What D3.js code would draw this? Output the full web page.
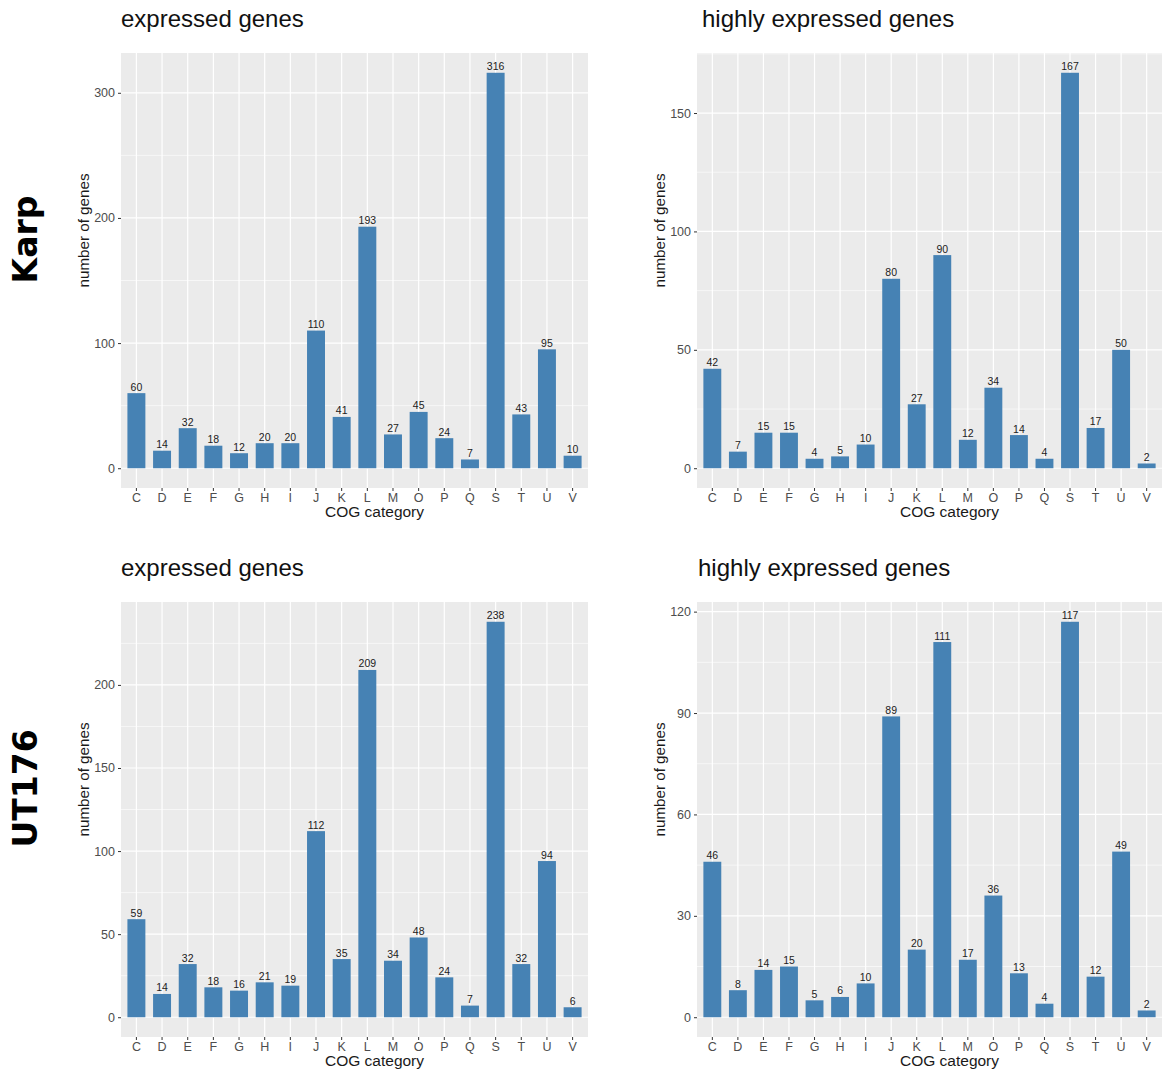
<!DOCTYPE html>
<html>
<head>
<meta charset="utf-8">
<script src="https://cdn.jsdelivr.net/npm/d3@7"></script>
<style>
  html, body { margin: 0; padding: 0; background: #ffffff; }
  svg { display: block; }
  text { font-family: "Liberation Sans", Arial, Helvetica, sans-serif; }
</style>
</head>
<body>
<svg id="chart" width="1162" height="1072"></svg>
<script>
// COG functional categories shown on every x axis
const categories = ["C","D","E","F","G","H","I","J","K","L","M","O","P","Q","S","T","U","V"];

// Gene counts per COG category
const karpExpressed       = [60,14,32,18,12,20,20,110,41,193,27,45,24,7,316,43,95,10];
const karpHighlyExpressed = [42,7,15,15,4,5,10,80,27,90,12,34,14,4,167,17,50,2];
const ut176Expressed       = [59,14,32,18,16,21,19,112,35,209,34,48,24,7,238,32,94,6];
const ut176HighlyExpressed = [46,8,14,15,5,6,10,89,20,111,17,36,13,4,117,12,49,2];

// Y axis tick values for each panel
const karpExpressedTicks       = [0,100,200,300];
const karpHighlyExpressedTicks = [0,50,100,150];
const ut176ExpressedTicks       = [0,50,100,150,200];
const ut176HighlyExpressedTicks = [0,30,60,90,120];

// Panel titles and row labels
const panelTitles = ["expressed genes", "highly expressed genes"];
const strainLabels = ["Karp", "UT176"];
const xAxisTitle = "COG category";
const yAxisTitle = "number of genes";

const svg = d3.select("#chart");

const BAR = "#4682B4";
const PANEL_BG = "#EBEBEB";

function drawPanel(cfg) {
  const { left, right, top, bottom, values, ticks, title, titleX } = cfg;
  const g = svg.append("g");

  const maxV = d3.max(values);
  const pad = maxV * 0.05;
  const y = d3.scaleLinear().domain([-pad, maxV + pad]).range([bottom, top]);
  const x = d3.scaleBand().domain(categories).range([left, right])
    .paddingInner(0.3).paddingOuter(0.25);
  const cx = c => x(c) + x.bandwidth() / 2;

  // panel background
  g.append("rect")
    .attr("x", left).attr("y", top)
    .attr("width", right - left).attr("height", bottom - top)
    .attr("fill", PANEL_BG);

  // minor horizontal grid lines halfway between ticks
  const step = ticks[1] - ticks[0];
  const minor = [];
  for (let v = ticks[0] - step / 2; v <= maxV + pad; v += step) {
    if (v >= -pad) minor.push(v);
  }
  g.selectAll(".minor").data(minor).enter().append("line")
    .attr("x1", left).attr("x2", right)
    .attr("y1", d => y(d)).attr("y2", d => y(d))
    .attr("stroke", "#ffffff").attr("stroke-width", 0.6);

  // major horizontal grid lines
  g.selectAll(".hmajor").data(ticks).enter().append("line")
    .attr("x1", left).attr("x2", right)
    .attr("y1", d => y(d)).attr("y2", d => y(d))
    .attr("stroke", "#ffffff").attr("stroke-width", 1.2);

  // vertical grid lines at category positions
  g.selectAll(".vmajor").data(categories).enter().append("line")
    .attr("x1", d => cx(d)).attr("x2", d => cx(d))
    .attr("y1", top).attr("y2", bottom)
    .attr("stroke", "#ffffff").attr("stroke-width", 1.2);

  // bars
  g.selectAll(".bar").data(values).enter().append("rect")
    .attr("x", (d, i) => x(categories[i]))
    .attr("width", x.bandwidth())
    .attr("y", d => y(d))
    .attr("height", d => y(0) - y(d))
    .attr("fill", BAR);

  // value labels above bars
  g.selectAll(".val").data(values).enter().append("text")
    .attr("x", (d, i) => cx(categories[i]))
    .attr("y", d => y(d) - 2.5)
    .attr("text-anchor", "middle")
    .attr("font-size", 10.5)
    .attr("fill", "#222222")
    .text(d => d);

  // y axis
  const yAxis = d3.axisLeft(y).tickValues(ticks).tickSize(3).tickPadding(3);
  const ya = g.append("g").attr("transform", `translate(${left},0)`).call(yAxis);
  ya.select(".domain").remove();
  ya.selectAll(".tick line").attr("stroke", "#333333").attr("stroke-width", 1);
  ya.selectAll(".tick text").attr("fill", "#4D4D4D").attr("font-size", 12.5);

  // x axis
  const xAxis = d3.axisBottom(x).tickSize(3).tickPadding(2);
  const xa = g.append("g").attr("transform", `translate(0,${bottom})`).call(xAxis);
  xa.select(".domain").remove();
  xa.selectAll(".tick line").attr("stroke", "#333333").attr("stroke-width", 1);
  xa.selectAll(".tick text").attr("fill", "#4D4D4D").attr("font-size", 12.5);

  // axis titles
  g.append("text")
    .attr("x", (left + right) / 2 + 20)
    .attr("y", bottom + 29)
    .attr("text-anchor", "middle")
    .attr("font-size", 15.5)
    .attr("fill", "#1a1a1a")
    .text(xAxisTitle);

  const ylx = left - 32;
  const yly = (top + bottom) / 2 - 40;
  g.append("text")
    .attr("transform", `translate(${ylx},${yly}) rotate(-90)`)
    .attr("text-anchor", "middle")
    .attr("font-size", 15.2)
    .attr("fill", "#1a1a1a")
    .text(yAxisTitle);

  // panel title
  g.append("text")
    .attr("x", titleX)
    .attr("y", top - 26)
    .attr("font-size", 24)
    .attr("fill", "#111111")
    .text(title);
}

const rows = [
  { top: 53, bottom: 488, left: karpExpressed, right: karpHighlyExpressed,
    lt: karpExpressedTicks, rt: karpHighlyExpressedTicks, label: strainLabels[0] },
  { top: 602, bottom: 1037, left: ut176Expressed, right: ut176HighlyExpressed,
    lt: ut176ExpressedTicks, rt: ut176HighlyExpressedTicks, label: strainLabels[1] }
];

rows.forEach((r, i) => {
  drawPanel({ left: 121, right: 588, top: r.top, bottom: r.bottom,
    values: r.left, ticks: r.lt, title: panelTitles[0], titleX: 121 });
  drawPanel({ left: 697, right: 1162, top: r.top, bottom: r.bottom,
    values: r.right, ticks: r.rt, title: panelTitles[1], titleX: i === 0 ? 702 : 698 });

  // strain label down the left edge of each row
  svg.append("text")
    .attr("transform", `translate(37,${(r.top + r.bottom) / 2 - 31}) rotate(-90)`)
    .attr("text-anchor", "middle")
    .style("font-family", "'DejaVu Sans', sans-serif")
    .style("font-weight", "bold")
    .style("font-size", "33px")
    .attr("fill", "#000000")
    .text(r.label);
});
</script>
</body>
</html>
